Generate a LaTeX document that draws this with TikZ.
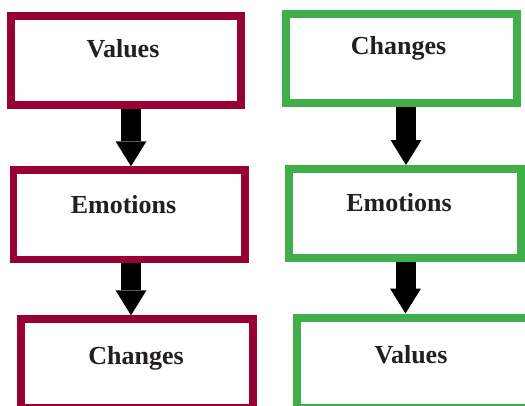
\documentclass[tikz,border=0pt]{standalone}
\usepackage{fontspec}
\setmainfont{Liberation Serif}
\usetikzlibrary{arrows.meta}

\definecolor{boxred}{HTML}{990033}
\definecolor{boxgreen}{HTML}{40AE49}
\definecolor{txtgray}{HTML}{231F20}

\begin{document}
\begin{tikzpicture}[x=1pt, y=-1pt,
  redbox/.style={draw=boxred, line width=7.5pt, fill=white},
  greenbox/.style={draw=boxgreen, line width=8pt, fill=white},
  lbl/.style={anchor=base, text=txtgray, font=\fontsize{26}{30}\selectfont\bfseries, inner sep=0pt},
  bigarrow/.style={line width=20pt, -{Triangle[width=31pt, length=25pt, line width=0pt]}}]
  \useasboundingbox (0, 0) rectangle (525, 405);
  \clip (0, 0) rectangle (525, 405);

  % left column
  \node[redbox, minimum width=230pt, minimum height=89pt] (lval) at (126, 60.5) {};
  \node[redbox, minimum width=231.5pt, minimum height=89.5pt] (lemo) at (129.25, 214.75) {};
  \node[redbox, minimum width=232pt, minimum height=89pt] (lchg) at (137, 363.5) {};
  \node[lbl] (lvaltxt) at (123, 57) {Values};
  \node[lbl] (lemotxt) at (123.5, 213) {Emotions};
  \node[lbl] (lchgtxt) at (136, 364) {Changes};

  % right column
  \node[greenbox, minimum width=231pt, minimum height=89.5pt] (rchg) at (401.5, 58.25) {};
  \node[greenbox, minimum width=232pt, minimum height=89pt] (remo) at (405, 213.5) {};
  \node[greenbox, minimum width=232pt, minimum height=90pt] (rval) at (413, 362.5) {};
  \node[lbl] (rchgtxt) at (398.5, 54) {Changes};
  \node[lbl] (remotxt) at (399, 211) {Emotions};
  \node[lbl] (rvaltxt) at (411, 363) {Values};

  \draw[bigarrow] ([xshift=5pt]lval.south) -- ([xshift=1.75pt]lemo.north);
  \draw[bigarrow] ([xshift=1.75pt]lemo.south) -- ([xshift=-6pt]lchg.north);
  \draw[bigarrow] ([xshift=4.5pt]rchg.south) -- ([xshift=1pt]remo.north);
  \draw[bigarrow] ([xshift=0.5pt]remo.south) -- ([xshift=-7.5pt]rval.north);
\end{tikzpicture}
\end{document}
